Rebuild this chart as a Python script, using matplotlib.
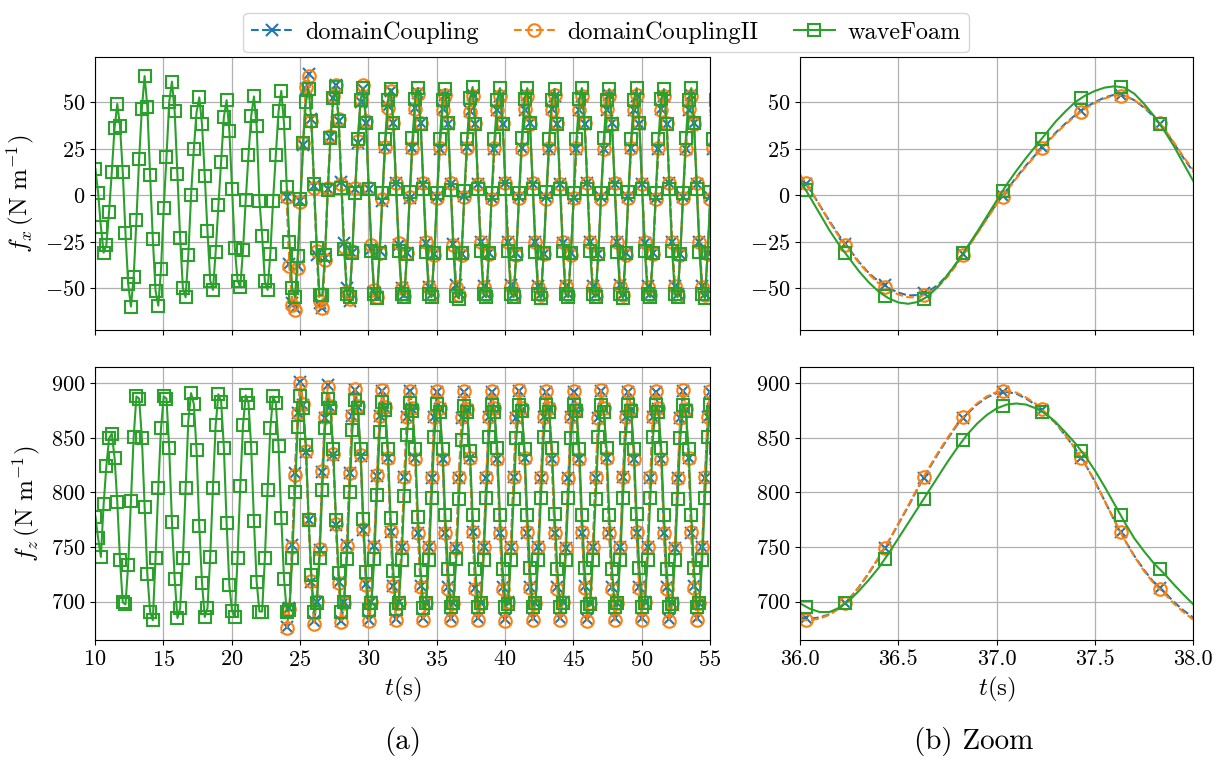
import numpy as np
import matplotlib
matplotlib.use("Agg")
import matplotlib.pyplot as plt

plt.rcParams.update({
    "font.family": "serif",
    "font.serif": ["cmr10"],
    "mathtext.fontset": "cm",
    "axes.formatter.use_mathtext": True,
    "font.size": 15,
})

# ---------------- data ----------------
series_names = ["domainCoupling", "domainCouplingII", "waveFoam"]
colors = ["tab:blue", "tab:orange", "tab:green"]

# sampled every 0.2 s (10 samples per 2 s wave period); one row per period
t0_wf = 10.03
t0_dc = 24.03
dt = 0.2

wf_fx = [
    [14, 1, -17, -31, -27, -9, 12.5, 36, 49, 37],
    [12.5, -20.5, -48, -60, -44, -13.5, 19.5, 46.5, 64, 47.5],
    [11, -23.5, -51.5, -59.5, -40, -7, 20.5, 50, 61, 45],
    [11.5, -23, -50, -55, -32, 0, 24.5, 44.5, 52.5, 38],
    [10.5, -19.5, -46, -51, -30.5, -5.5, 18, 42, 51, 34.5],
    [3.5, -28.5, -46, -49.5, -29.5, -2.5, 21.5, 42.5, 53, 37],
    [-3, -22, -46.5, -51, -31.5, -3, 21.5, 45, 56, 38.5],
    [4.5, -25, -50, -55, -33, -2, 28, 50, 57, 40],
    [6, -28.5, -54, -54, -32, 2.5, 30.5, 52, 58, 40],
    [4, -29, -53, -55, -31, 1, 30, 51, 57.5, 39],
    [3, -30, -53, -55.5, -31, 1, 30, 51, 57, 38.5],
    [3, -30, -53, -55, -31.5, 1.5, 30.5, 51.5, 57.5, 38],
    [3, -30.5, -53, -55, -31, 1, 30, 51, 57, 38.5],
    [2.6, -31.2, -54.1, -55.7, -31.2, 2.1, 30.4, 52.1, 58.1, 38],
    [3, -30, -53.5, -55, -31, 1, 30, 51, 57.5, 38],
    [3.5, -30, -53, -55, -31.5, 1, 30.5, 51.5, 57.5, 38.5],
    [3, -30.5, -53, -55.5, -31, 1.5, 30, 51, 57, 38],
    [3, -30, -53.5, -55, -31, 1, 30, 51.5, 57.5, 38.5],
    [3.5, -30, -53, -55, -31.5, 1, 30.5, 51, 57, 38],
    [3, -30.5, -53, -55.5, -31, 1.5, 30, 51, 57.5, 38.5],
    [3, -30, -53, -55, -31, 1, 30, 51.5, 57, 38],
    [3.5, -30, -53.5, -55, -31.5, 1, 30.5, 51, 57.5, 38.5],
    [3, -30.5, -53, -55.5, -31, 1.5, 30, 51, 57, 38],
]

dc_fx = [
    [-1, -37, -58, -61, -38, -3, 27, 57, 65, 41],
    [5, -32, -58, -61, -34, 3, 31, 52, 59, 40],
    [7, -26, -50, -57, -31, 3, 28, 50, 57, 39],
    [3, -29, -52, -55, -30, -3, 26, 48, 56, 39],
    [6.5, -27, -50, -54, -31, -1.5, 25.5, 47, 55, 38.5],
    [6, -26, -49.5, -53.5, -31.5, -1, 25, 46.5, 54, 38],
    [5.8, -26.2, -48.6, -52.7, -31.5, -0.3, 25.6, 45.4, 53.7, 38.1],
    [6, -25.5, -49, -53, -31, -1.5, 25, 46, 53.5, 38],
    [6.5, -25, -48.5, -53, -31, -1, 25.5, 46, 54, 38.5],
    [6, -25.5, -49, -53.5, -31.5, -1, 25, 46.5, 53.5, 38],
    [6, -26, -49, -53, -31, -1.5, 25, 46, 53.5, 38],
    [6.5, -25.5, -49, -53, -31.5, -1, 25, 46, 54, 38.5],
    [6, -25.5, -48.5, -53.5, -31, -1, 25.5, 46, 53.5, 38],
    [6, -26, -49, -53, -31, -1.5, 25, 46.5, 53.5, 38],
    [6.5, -25.5, -49, -53, -31.5, -1, 25, 46, 54, 38.5],
    [6, -25.5, -49, -53.5, -31, -1, 25, 46, 53.5, 38],
]

dc2_fx = [
    [-1, -38, -59, -62, -39, -4, 28, 58, 64, 40],
    [4, -30, -57, -61, -35, 4, 32, 53, 59, 41],
    [6, -28, -52, -56, -30, 4, 29, 51, 59, 40],
    [4, -27, -51, -55, -31, -2, 26, 47, 56, 39],
    [6.5, -26, -50, -54.5, -31, -1, 25.5, 46.5, 54.5, 38.5],
    [6.5, -25.5, -49.5, -54, -32, -1.5, 25.5, 46, 54, 38.5],
    [6.5, -26.7, -49.6, -53.8, -32.2, -0.8, 25.1, 44.9, 53.5, 38.6],
    [6, -25, -49.5, -54, -31.5, -2, 25.5, 46, 53.5, 38.5],
    [6.5, -25.5, -49, -54.5, -32, -1.5, 25, 46.5, 53.5, 38],
    [6.5, -25, -49.5, -54, -31.5, -2, 25.5, 46, 54, 38.5],
    [6, -25.5, -49, -54, -32, -1.5, 25.5, 46, 53.5, 38.5],
    [6.5, -25, -49.5, -54.5, -31.5, -2, 25, 46.5, 53.5, 38],
    [6.5, -25.5, -49, -54, -32, -1.5, 25.5, 46, 54, 38.5],
    [6, -25, -49.5, -54, -31.5, -2, 25.5, 46, 53.5, 38.5],
    [6.5, -25.5, -49, -54.5, -32, -1.5, 25, 46.5, 53.5, 38],
    [6.5, -25, -49.5, -54, -31.5, -2, 25.5, 46, 54, 38.5],
]

wf_fz = [
    [778, 758, 741, 789, 824, 849.5, 854, 832, 791.5, 738],
    [699.5, 697.5, 734, 792, 851, 888, 886, 850, 787, 725],
    [691, 683, 740, 804, 859, 888, 886, 840.5, 773, 721],
    [685, 694, 740, 804, 866, 891, 881, 839, 769, 717],
    [686, 694, 741, 804, 862, 890, 883, 841, 772, 715],
    [691.5, 686, 740, 806, 862, 889, 882, 841, 774, 718],
    [691, 691, 740, 802, 859, 888, 882, 843, 777, 721],
    [691, 692.5, 740, 800, 860, 888, 877.5, 843.5, 775, 724.5],
    [691, 698.5, 740, 802, 859, 886, 877, 840, 775, 726],
    [691, 700, 739, 800, 857, 885, 877, 840, 776, 727],
    [692, 699, 739, 798, 855, 883, 876, 840, 777, 728],
    [693, 699, 738, 797, 853, 882, 875, 840, 778, 729],
    [694, 698.5, 738, 795, 851, 881, 874, 840, 779, 730],
    [695.5, 698.4, 738.8, 794.4, 848.2, 879.1, 874, 838.1, 779.4, 729.6],
    [695, 698.5, 738, 794.5, 850.5, 880, 874, 840.5, 779.5, 730],
    [695.5, 698, 738.5, 794, 850, 880.5, 874.5, 840, 779, 730.5],
    [695, 698.5, 738, 795, 850.5, 880, 874, 840.5, 780, 730],
    [695.5, 698.5, 738.5, 794.5, 850, 880, 874.5, 840, 779.5, 730.5],
    [695, 698, 738, 794, 850.5, 880.5, 874, 840.5, 779, 730],
    [695.5, 698.5, 738.5, 795, 850, 880, 874.5, 840, 780, 730.5],
    [695, 698.5, 738, 794.5, 850.5, 880, 874, 840.5, 779.5, 730],
    [695.5, 698, 738.5, 794, 850, 880.5, 874.5, 840, 779, 730.5],
    [695, 698.5, 738, 795, 850.5, 880, 874, 840.5, 780, 730],
]

dc_fz = [
    [677, 694, 752, 817.5, 872.5, 901, 880, 837, 775, 718],
    [682, 700, 747, 819, 868, 898.5, 878, 834, 770, 718],
    [682, 700, 752, 817.5, 870, 894, 878.5, 833, 766, 716],
    [683, 700, 751, 815, 870, 893, 877, 832, 764, 714],
    [684, 699.5, 750.5, 814, 869.5, 892.5, 876.5, 831.5, 763, 714],
    [685, 699, 750, 813.5, 869, 892, 876.5, 831, 762.5, 713.5],
    [684.7, 699.1, 749, 813.6, 868, 891.6, 875.2, 831.6, 763.8, 712.7],
    [685, 699, 750, 813.5, 869, 892, 876.5, 831, 762.5, 713.5],
    [684.5, 699.5, 750.5, 814, 868.5, 892.5, 876, 831.5, 763, 713],
    [685, 699, 750, 813.5, 869, 892, 876.5, 831, 762.5, 713.5],
    [685, 699.5, 749.5, 813, 869, 892, 876, 831, 763, 714],
    [684.5, 699, 750, 813.5, 868.5, 892.5, 876.5, 831.5, 762.5, 713.5],
    [685, 699, 750.5, 814, 869, 892, 876, 831, 763, 713],
    [685, 699.5, 750, 813.5, 869, 892, 876.5, 831, 762.5, 713.5],
    [684.5, 699, 749.5, 813, 868.5, 892.5, 876, 831.5, 763, 714],
    [685, 699, 750, 813.5, 869, 892, 876.5, 831, 762.5, 713.5],
]

dc2_fz = [
    [676, 693, 750, 816, 873, 900, 881, 838, 776, 719],
    [680, 701, 748, 820, 869, 897, 879, 835, 771, 717],
    [681, 699, 751, 818, 871, 895, 879, 834, 767, 715],
    [682, 700, 750, 816, 870, 894, 878, 832, 765, 714],
    [683, 699, 750, 814, 869, 893, 877, 831, 763, 713],
    [683, 699, 750, 814, 869, 893, 877, 831, 763, 712],
    [683.2, 699.1, 749.5, 814.6, 869, 892.6, 876.2, 831.6, 763.8, 711.4],
    [683, 699, 750, 814, 869, 893, 877, 831, 763, 712],
    [682.5, 699.5, 750.5, 814.5, 869.5, 893.5, 877, 831.5, 763.5, 712.5],
    [683, 699, 750, 814, 869, 893, 877, 831, 763, 712],
    [683, 699.5, 749.5, 813.5, 869, 893, 876.5, 831, 763.5, 712.5],
    [682.5, 699, 750, 814, 868.5, 893.5, 877, 831.5, 763, 712],
    [683, 699, 750.5, 814.5, 869, 893, 876.5, 831, 763.5, 712.5],
    [683, 699.5, 750, 814, 869, 893, 877, 831, 763, 712],
    [682.5, 699, 749.5, 813.5, 868.5, 893.5, 876.5, 831.5, 763.5, 712.5],
    [683, 699, 750, 814, 869, 893, 877, 831, 763, 712],
]

# zoom window (finer sampling, every 0.05 s from 36.00 to 38.00)
tz0 = 36.0
dtz = 0.05
z_wf_fx = [8, -1, -10, -19, -27, -34, -41, -47, -52, -55.5,
           -57.8, -58.5, -57.5, -54.5, -49.5, -43, -36, -28, -20, -11.5,
           -3, 5.5, 13, 20, 26.5, 33, 39.5, 45, 50, 53.5,
           56, 57.8, 58.5, 57.8, 54.5, 49, 42.5, 35, 26.5, 17, 7.5]
z_dc_fx = [10, 3, -5.5, -14, -22, -29, -36, -42, -46.5, -50,
           -52.5, -54, -53.8, -52, -48.5, -43, -36, -28.5, -20.5, -12.5,
           -4.5, 2.5, 9.5, 16, 22, 28, 33.5, 38.5, 43, 47,
           50, 52.5, 54, 53.5, 51, 47, 42, 35.5, 28, 20, 12.5]
z_dc2_fx = [11, 3.5, -5.5, -14.5, -22.5, -29.5, -36.5, -42.5, -47.5, -51,
            -53.5, -55, -55, -53, -49.5, -44, -37, -29, -21, -13,
            -5, 2, 9, 15.5, 21.5, 27.5, 33, 38, 42.5, 46.5,
            49.5, 52, 53.5, 53.5, 51, 47.5, 42.5, 36, 28.5, 20.5, 13.5]
z_wf_fz = [698.5, 693.5, 690.5, 690.5, 694.5, 701, 710, 720, 731, 744,
           758, 772, 786, 800, 814, 828, 841, 853, 863, 871,
           877, 880.5, 881.5, 880.5, 877, 872, 864.5, 855, 845, 833.5,
           820, 805, 789, 773, 758, 746, 735, 726, 716, 706.5, 697.5]
z_dc_fz = [685, 684.5, 685.5, 688.5, 694, 702.5, 713.5, 726, 740, 755,
           771, 787, 804, 820, 835, 849, 862, 872, 880.5, 887,
           891, 892, 890.5, 886, 880, 872, 863.5, 852, 840, 826,
           810, 792, 774, 757, 742, 729, 717.5, 709.5, 700, 692, 685.5]
z_dc2_fz = [683.5, 683, 684.5, 688, 694, 702.5, 713.5, 726.5, 740.5, 755.5,
            771.5, 788, 805, 821, 836, 850, 863, 873, 881.5, 888,
            892, 893, 891.5, 887, 881, 873, 864, 852.5, 840, 826,
            810, 792, 774, 757, 741.5, 728, 716.5, 708, 698.5, 690.5, 683.5]

xlim_full = (10, 55)
xlim_zoom = (36.0, 38.0)
ylim_fx = (-72.6, 74.4)
ylim_fz = (664.9, 915.2)


def series(rows, t0):
    y = np.ravel(np.array(rows, dtype=float))
    t = t0 + dt * np.arange(y.size)
    return t, y


# ---------------- figure ----------------
W, H = 1219, 762
fig = plt.figure(figsize=(W / 100, H / 100), dpi=100)


def box(x0, y0, x1, y1):
    return [x0 / W, 1 - y1 / H, (x1 - x0) / W, (y1 - y0) / H]


ax_fx = fig.add_axes(box(95, 56.7, 710, 330))
ax_fz = fig.add_axes(box(95, 366.7, 710, 640))
az_fx = fig.add_axes(box(800, 56.7, 1193.3, 330))
az_fz = fig.add_axes(box(800, 366.7, 1193.3, 640))

styles = [
    dict(color=colors[0], ls="--", marker="x", ms=9, mew=1.5, lw=1.5),
    dict(color=colors[1], ls="--", marker="o", ms=9, mew=1.5, lw=1.5, mfc="none"),
    dict(color=colors[2], ls="-", marker="s", ms=9, mew=1.5, lw=1.5, mfc="none"),
]

full_fx = [series(dc_fx, t0_dc), series(dc2_fx, t0_dc), series(wf_fx, t0_wf)]
full_fz = [series(dc_fz, t0_dc), series(dc2_fz, t0_dc), series(wf_fz, t0_wf)]
zoom_fx = [z_dc_fx, z_dc2_fx, z_wf_fx]
zoom_fz = [z_dc_fz, z_dc2_fz, z_wf_fz]

handles = []
for i in range(3):
    t, y = full_fx[i]
    h, = ax_fx.plot(t, y, label=series_names[i], **styles[i])
    handles.append(h)
    t, y = full_fz[i]
    ax_fz.plot(t, y, **styles[i])

for ax_z, zdata, full in [(az_fx, zoom_fx, full_fx), (az_fz, zoom_fz, full_fz)]:
    for i in range(3):
        yz = np.array(zdata[i], dtype=float)
        tz = tz0 + dtz * np.arange(yz.size)
        st = dict(styles[i])
        st_line = {k: v for k, v in st.items() if k not in ("marker", "ms", "mew", "mfc")}
        ax_z.plot(tz, yz, **st_line)
        t, y = full[i]
        m = (t >= xlim_zoom[0]) & (t <= xlim_zoom[1])
        st_mark = {k: v for k, v in st.items() if k not in ("ls", "lw")}
        ax_z.plot(t[m], y[m], ls="none", **st_mark)

for ax in (ax_fx, ax_fz):
    ax.set_xlim(*xlim_full)
    ax.set_xticks(np.arange(10, 56, 5))
for ax in (az_fx, az_fz):
    ax.set_xlim(*xlim_zoom)
    ax.set_xticks([36.0, 36.5, 37.0, 37.5, 38.0])
    ax.xaxis.set_major_formatter(plt.FormatStrFormatter("%.1f"))
for ax in (ax_fx, az_fx):
    ax.set_ylim(*ylim_fx)
    ax.set_yticks([-50, -25, 0, 25, 50])
    ax.tick_params(labelbottom=False)
for ax in (ax_fz, az_fz):
    ax.set_ylim(*ylim_fz)
    ax.set_yticks([700, 750, 800, 850, 900])

for ax in (ax_fx, ax_fz, az_fx, az_fz):
    ax.grid(True, color="#b0b0b0", lw=0.9)
    ax.set_axisbelow(True)
    ax.tick_params(labelsize=16)

lab_fs = 18
ax_fx.set_ylabel(r"$f_x\,(\mathrm{N\ m^{-1}})$", fontsize=lab_fs, labelpad=6)
ax_fz.set_ylabel(r"$f_z\,(\mathrm{N\ m^{-1}})$", fontsize=lab_fs, labelpad=6)
ax_fz.set_xlabel(r"$t(\mathrm{s})$", fontsize=lab_fs)
az_fz.set_xlabel(r"$t(\mathrm{s})$", fontsize=lab_fs)

fig.text(402.5 / W, 1 - 742 / H, "(a)", ha="center", va="center", fontsize=21)
fig.text(974 / W, 1 - 742 / H, "(b) Zoom", ha="center", va="center", fontsize=21)

fig.legend(handles, series_names, loc="upper center", bbox_to_anchor=(606 / W, 0.999),
           ncol=3, fontsize=17.5, frameon=True, handlelength=1.7, handletextpad=0.5,
           columnspacing=1.45, borderpad=0.35)

fig.savefig("out.png", dpi=100)
